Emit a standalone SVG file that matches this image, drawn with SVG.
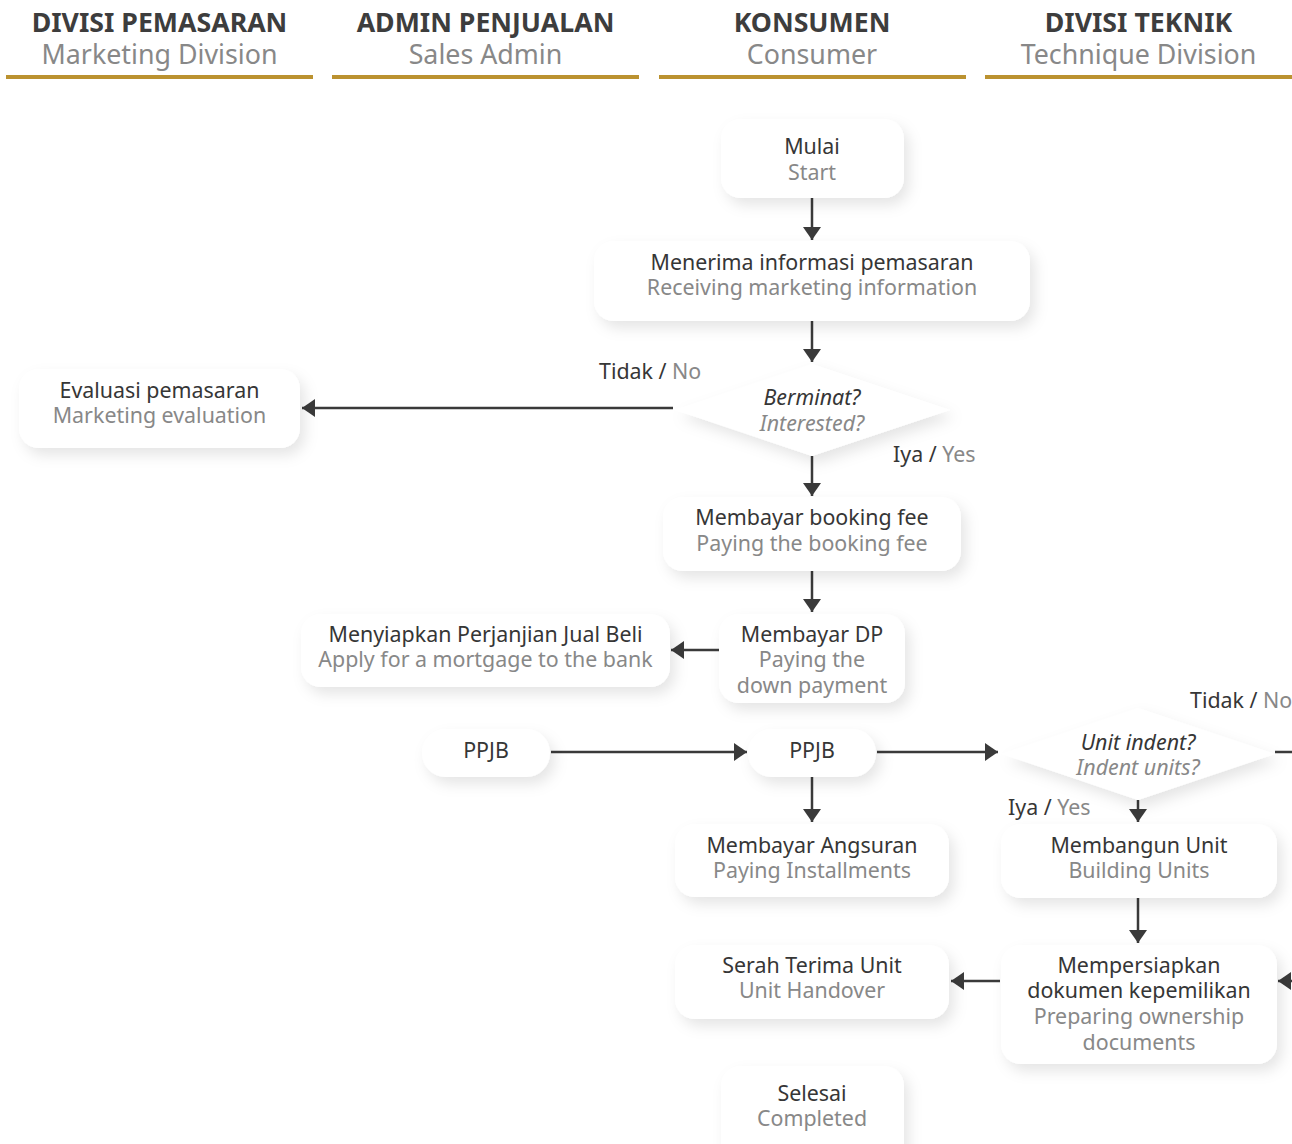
<svg xmlns="http://www.w3.org/2000/svg" width="1292" height="1144" viewBox="0 0 1292 1144">
  <defs>
    <filter id="soft" x="-20%" y="-30%" width="150%" height="170%">
      <feDropShadow dx="5" dy="7" stdDeviation="7" flood-color="#000" flood-opacity="0.10"/>
    </filter>
    <marker id="head" viewBox="0 0 13 18" refX="13" refY="9" markerWidth="13" markerHeight="18" markerUnits="userSpaceOnUse" orient="auto">
      <path d="M0,0 L13,9 L0,18 z" fill="#3a3a3a"/>
    </marker>
  </defs>
  <style>
    text { font-family: "Noto Sans", "Open Sans", sans-serif; font-size: 21.4px; text-anchor: middle; }
    .main { fill: #363636; }
    .sub { fill: #888888; }
    .it { font-style: italic; }
    .h1 { font-size: 26.7px; font-weight: bold; fill: #3d3d3d; }
    .h2 { font-size: 26.8px; fill: #888888; }
    .lane { fill: #bb9230; }
    .box { fill: #ffffff; filter: url(#soft); }
    .edge { fill: none; stroke: #3a3a3a; stroke-width: 2.5; marker-end: url(#head); }
    .plain { fill: none; stroke: #3a3a3a; stroke-width: 2.5; }
    .lbl { text-anchor: start; }
  </style>

  <rect width="1292" height="1144" fill="#ffffff"/>

  <!-- swimlane headers -->
  <g id="lanes">
    <text class="h1" x="159.5" y="32">DIVISI PEMASARAN</text>
    <text class="h2" x="159.5" y="64">Marketing Division</text>
    <rect class="lane" x="6" y="75" width="307" height="4"/>
    <text class="h1" x="485.5" y="32">ADMIN PENJUALAN</text>
    <text class="h2" x="485.5" y="64">Sales Admin</text>
    <rect class="lane" x="332" y="75" width="307" height="4"/>
    <text class="h1" x="812" y="32">KONSUMEN</text>
    <text class="h2" x="812" y="64">Consumer</text>
    <rect class="lane" x="659" y="75" width="307" height="4"/>
    <text class="h1" x="1138.5" y="32">DIVISI TEKNIK</text>
    <text class="h2" x="1138.5" y="64">Technique Division</text>
    <rect class="lane" x="985" y="75" width="307" height="4"/>
  </g>

  <!-- connectors -->
  <g id="connectors">
    <path class="edge" d="M812,198 V240"/>
    <path class="edge" d="M812,321 V362"/>
    <path class="edge" d="M673,408 H302"/>
    <path class="edge" d="M812,456 V496"/>
    <path class="edge" d="M812,571 V612"/>
    <path class="edge" d="M719,650 H671"/>
    <path class="edge" d="M551,752 H747"/>
    <path class="edge" d="M877,752 H998"/>
    <path class="plain" d="M1275,752 H1292"/>
    <path class="edge" d="M1138,800 V822"/>
    <path class="edge" d="M812,777 V822"/>
    <path class="edge" d="M1138,898 V943"/>
    <path class="edge" d="M1000,981 H951"/>
    <path class="edge" d="M1300,981 H1278"/>
    <text class="lbl main" x="599" y="379">Tidak / <tspan class="sub">No</tspan></text>
    <text class="lbl main" x="893" y="462">Iya / <tspan class="sub">Yes</tspan></text>
    <text class="lbl main" x="1190" y="708">Tidak / <tspan class="sub">No</tspan></text>
    <text class="lbl main" x="1008" y="815">Iya / <tspan class="sub">Yes</tspan></text>
  </g>

  <!-- nodes -->
  <g id="start">
    <rect class="box" x="721" y="119" width="183" height="79" rx="20"/>
    <text class="main" x="812" y="154">Mulai</text>
    <text class="sub" x="812" y="180">Start</text>
  </g>
  <g id="receive-info">
    <rect class="box" x="594" y="241" width="436" height="80" rx="20"/>
    <text class="main" x="812" y="270">Menerima informasi pemasaran</text>
    <text class="sub" x="812" y="295">Receiving marketing information</text>
  </g>
  <g id="interested">
    <polygon class="box" points="812,364 950,410 812,456 675,410"/>
    <text class="main it" x="812" y="405">Berminat?</text>
    <text class="sub it" x="812" y="431">Interested?</text>
  </g>
  <g id="evaluation">
    <rect class="box" x="19" y="369" width="281" height="79" rx="20"/>
    <text class="main" x="159.5" y="398">Evaluasi pemasaran</text>
    <text class="sub" x="159.5" y="423">Marketing evaluation</text>
  </g>
  <g id="booking-fee">
    <rect class="box" x="663" y="497" width="298" height="74" rx="20"/>
    <text class="main" x="812" y="525">Membayar booking fee</text>
    <text class="sub" x="812" y="551">Paying the booking fee</text>
  </g>
  <g id="down-payment">
    <rect class="box" x="719" y="614" width="186" height="89" rx="20"/>
    <text class="main" x="812" y="642">Membayar DP</text>
    <text class="sub" x="812" y="667">Paying the</text>
    <text class="sub" x="812" y="693">down payment</text>
  </g>
  <g id="prepare-ppjb">
    <rect class="box" x="301" y="614" width="369" height="73" rx="20"/>
    <text class="main" x="485.5" y="642">Menyiapkan Perjanjian Jual Beli</text>
    <text class="sub" x="485.5" y="667">Apply for a mortgage to the bank</text>
  </g>
  <g id="ppjb-admin">
    <rect class="box" x="422" y="729" width="128" height="48" rx="24"/>
    <text class="main" x="486" y="758">PPJB</text>
  </g>
  <g id="ppjb-consumer">
    <rect class="box" x="748" y="729" width="128" height="48" rx="24"/>
    <text class="main" x="812" y="758">PPJB</text>
  </g>
  <g id="indent">
    <polygon class="box" points="1138,708 1275,754 1138,800 1002,754"/>
    <text class="main it" x="1138" y="750">Unit indent?</text>
    <text class="sub it" x="1138" y="775">Indent units?</text>
  </g>
  <g id="build-units">
    <rect class="box" x="1001" y="824" width="276" height="74" rx="20"/>
    <text class="main" x="1139" y="853">Membangun Unit</text>
    <text class="sub" x="1139" y="878">Building Units</text>
  </g>
  <g id="installments">
    <rect class="box" x="675" y="824" width="274" height="73" rx="20"/>
    <text class="main" x="812" y="853">Membayar Angsuran</text>
    <text class="sub" x="812" y="878">Paying Installments</text>
  </g>
  <g id="handover">
    <rect class="box" x="675" y="945" width="274" height="74" rx="20"/>
    <text class="main" x="812" y="973">Serah Terima Unit</text>
    <text class="sub" x="812" y="998">Unit Handover</text>
  </g>
  <g id="ownership-docs">
    <rect class="box" x="1001" y="945" width="276" height="119" rx="20"/>
    <text class="main" x="1139" y="973">Mempersiapkan</text>
    <text class="main" x="1139" y="998">dokumen kepemilikan</text>
    <text class="sub" x="1139" y="1024">Preparing ownership</text>
    <text class="sub" x="1139" y="1050">documents</text>
  </g>
  <g id="finish">
    <rect class="box" x="721" y="1066" width="183" height="100" rx="20"/>
    <text class="main" x="812" y="1101">Selesai</text>
    <text class="sub" x="812" y="1126">Completed</text>
  </g>
</svg>
